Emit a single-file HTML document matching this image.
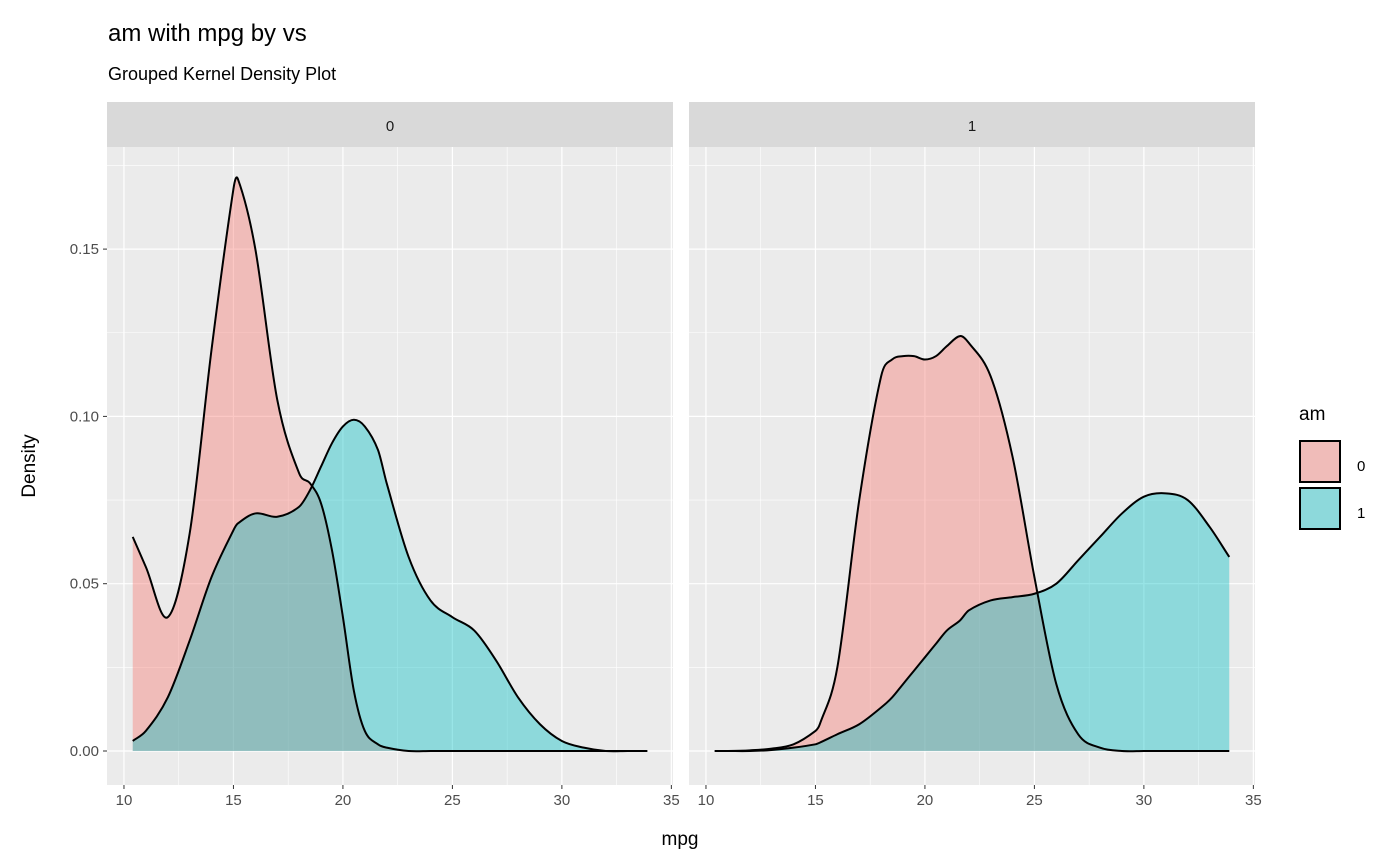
<!DOCTYPE html>
<html><head><meta charset="utf-8"><style>
body{margin:0;background:#fff;}
svg{display:block;font-family:"Liberation Sans",Arial,sans-serif;}
</style></head><body>
<svg id="chart" width="1400" height="865">
<text x="108" y="41" font-size="24" fill="#000">am with mpg by vs</text>
<text x="108" y="80" font-size="18" fill="#000">Grouped Kernel Density Plot</text>
<text x="680" y="845" font-size="19" text-anchor="middle" fill="#000">mpg</text>
<text transform="translate(35,466) rotate(-90)" font-size="19" text-anchor="middle" fill="#000">Density</text>
<g id="panels"></g>
<g>
<text x="1299" y="420" font-size="19" fill="#000">am</text>
<rect x="1299" y="440" width="42" height="43" fill="#EBEBEB"/>
<rect x="1300" y="441" width="40" height="41" fill="rgba(248,118,109,0.4)" stroke="#000" stroke-width="2"/>
<text x="1357" y="471" font-size="15" fill="#000">0</text>
<rect x="1299" y="487" width="42" height="43" fill="#EBEBEB"/>
<rect x="1300" y="488" width="40" height="41" fill="rgba(0,191,196,0.4)" stroke="#000" stroke-width="2"/>
<text x="1357" y="518" font-size="15" fill="#000">1</text>
</g>
</svg>
<script>
const facets = ["0","1"];
const xGrid = [10.4,11,12,13,14,15,15.2,16,17,18,18.5,19,19.5,20,20.5,21,21.6,22,23,24,25,26,27,28,29,30,31,32,33,33.9];
const p0am0 = [0.064,0.055,0.040,0.065,0.120,0.168,0.171,0.150,0.105,0.083,0.080,0.074,0.060,0.040,0.018,0.006,0.002,0.001,0,0,0,0,0,0,0,0,0,0,0,0];
const p0am1 = [0.003,0.006,0.016,0.033,0.052,0.066,0.068,0.071,0.070,0.073,0.078,0.085,0.092,0.097,0.099,0.097,0.090,0.080,0.058,0.045,0.040,0.036,0.027,0.016,0.008,0.003,0.001,0,0,0];
const p1am0 = [0,0,0.0002,0.0007,0.002,0.006,0.008,0.025,0.075,0.112,0.117,0.118,0.118,0.117,0.118,0.121,0.124,0.122,0.112,0.088,0.052,0.020,0.005,0.001,0,0,0,0,0,0];
const p1am1 = [0,0,0,0.0003,0.001,0.002,0.0025,0.005,0.008,0.013,0.016,0.020,0.024,0.028,0.032,0.036,0.039,0.042,0.045,0.046,0.047,0.050,0.057,0.064,0.071,0.076,0.077,0.075,0.067,0.058];
const xTicks = [10,15,20,25,30,35];
const yTicks = [0,0.05,0.10,0.15];
const yTickLabels = ["0.00","0.05","0.10","0.15"];
const series = [[p0am0,p0am1],[p1am0,p1am1]];
const colors = ["rgba(248,118,109,0.4)","rgba(0,191,196,0.4)"];

(function(){
const NS="http://www.w3.org/2000/svg";
const g=document.getElementById('panels');
const panelLefts=[107,689], panelW=566, pTop=147, pBottom=785;
const xmin=9.225, xmax=35.075;
const y0px=751, pxPerUnit=167.3/0.05;
function mk(t,a){const e=document.createElementNS(NS,t);for(const k in a)e.setAttribute(k,a[k]);g.appendChild(e);return e;}
function smooth(pts){
  const n=pts.length, m=[];
  for(let i=0;i<n;i++){const a=pts[Math.max(0,i-1)],b=pts[Math.min(n-1,i+1)];m.push((b[1]-a[1])/(b[0]-a[0]));}
  let d='M'+pts[0][0]+','+pts[0][1];
  for(let i=0;i<n-1;i++){const p1=pts[i],p2=pts[i+1],dx=(p2[0]-p1[0])/3;
    d+=' C'+(p1[0]+dx)+','+(p1[1]+m[i]*dx)+' '+(p2[0]-dx)+','+(p2[1]-m[i+1]*dx)+' '+p2[0]+','+p2[1];}
  return d;}
facets.forEach((f,fi)=>{
  const L=panelLefts[fi];
  const xs=v=>L+(v-xmin)/(xmax-xmin)*panelW;
  const ys=v=>y0px-v*pxPerUnit;
  let e=mk('rect',{x:L,y:102,width:panelW,height:45,fill:'#D9D9D9'});
  
  
  e=mk('text',{x:L+panelW/2,y:131,'font-size':15,'text-anchor':'middle',fill:'#1a1a1a'});e.textContent=f;
  
  
  e=mk('rect',{x:L,y:pTop,width:panelW,height:pBottom-pTop,fill:'#EBEBEB'});
  
  
  for(let i=0;i<xTicks.length-1;i++){const m=(xTicks[i]+xTicks[i+1])/2;e=mk('line',{x1:xs(m),x2:xs(m),y1:pTop,y2:pBottom,stroke:'#fff','stroke-width':0.6});
    
    }
  for(let i=0;i<yTicks.length;i++){const m=yTicks[i]+0.025;e=mk('line',{x1:L,x2:L+panelW,y1:ys(m),y2:ys(m),stroke:'#fff','stroke-width':0.6});
    
    }
  xTicks.forEach(t=>{e=mk('line',{x1:xs(t),x2:xs(t),y1:pTop,y2:pBottom,stroke:'#fff','stroke-width':1.2});
    
    
    e=mk('line',{x1:xs(t),x2:xs(t),y1:pBottom,y2:pBottom+4,stroke:'#333','stroke-width':1});
    
    
    e=mk('text',{x:xs(t),y:pBottom+20,'font-size':15,'text-anchor':'middle',fill:'#4D4D4D'});e.textContent=t;
    
    });
  yTicks.forEach((t,i)=>{e=mk('line',{x1:L,x2:L+panelW,y1:ys(t),y2:ys(t),stroke:'#fff','stroke-width':1.2});
    
    
    if(fi===0){e=mk('line',{x1:L-4,x2:L,y1:ys(t),y2:ys(t),stroke:'#333','stroke-width':1});
      
      
      e=mk('text',{x:L-8,y:ys(t)+5,'font-size':15,'text-anchor':'end',fill:'#4D4D4D'});e.textContent=yTickLabels[i];
      
      }});
  series[fi].forEach((vals,si)=>{
    const pts=xGrid.map((x,i)=>[xs(x),ys(vals[i])]);
    const line=smooth(pts);
    e=mk('path',{d:line+' L'+xs(xGrid[xGrid.length-1])+','+ys(0)+' L'+xs(xGrid[0])+','+ys(0)+' Z',fill:colors[si],stroke:'none'});
    
    
  });
  series[fi].forEach((vals,si)=>{
    const pts=xGrid.map((x,i)=>[xs(x),ys(vals[i])]);
    e=mk('path',{d:smooth(pts),fill:'none',stroke:'#000','stroke-width':2});
    
    
  });
});
})();
</script>
</body></html>
